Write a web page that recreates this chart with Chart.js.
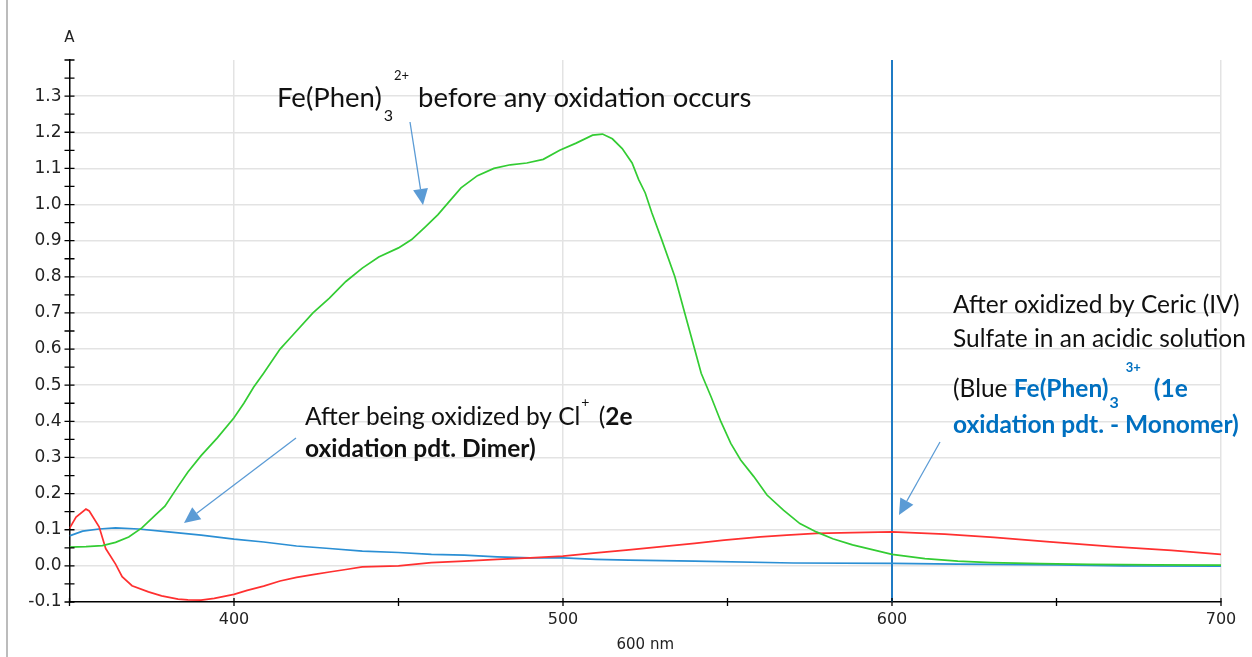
<!DOCTYPE html>
<html>
<head>
<meta charset="utf-8">
<script src="https://cdn.jsdelivr.net/npm/chart.js@4.4.1/dist/chart.umd.min.js"></script>
<style>
  html, body { margin: 0; padding: 0; background: #fff; }
  #wrap { position: relative; width: 1252px; height: 657px; overflow: hidden; }
  #spectrum { position: absolute; left: 0; top: 0; }
  #frame { position: absolute; left: 6px; top: 0; width: 2px; height: 657px; background: #bcbcbc; }
</style>
</head>
<body>
<div id="wrap">
  <canvas id="spectrum" width="1252" height="657"></canvas>
  <div id="frame"></div>
</div>
<script>
// absorbance spectra (wavelength in nm, absorbance A)
const greenNm = [350, 355, 360, 364, 368, 372, 376, 379, 383, 386, 390, 395, 400, 403, 406, 409, 414, 417, 424, 429,
  434, 439, 444, 450, 454, 458, 462, 465, 469, 474, 479, 484, 489, 494, 499, 504, 509, 512, 515, 518,
  521, 523, 525, 527, 530, 534, 537, 540, 542, 545, 548, 551, 554, 558, 562, 567, 572, 577, 582, 588,
  594, 600, 610, 620, 630, 645, 660, 680, 700];
const greenAbs = [0.052, 0.053, 0.056, 0.065, 0.08, 0.105, 0.14, 0.165, 0.22, 0.26, 0.305, 0.355, 0.41, 0.45, 0.495, 0.533, 0.6, 0.63, 0.70, 0.741,
  0.787, 0.824, 0.855, 0.88, 0.903, 0.937, 0.972, 1.004, 1.046, 1.08, 1.10, 1.11, 1.115, 1.125, 1.15, 1.17, 1.192, 1.195, 1.182, 1.155,
  1.115, 1.069, 1.032, 0.977, 0.903, 0.80, 0.70, 0.60, 0.533, 0.468, 0.399, 0.339, 0.293, 0.247, 0.196, 0.154, 0.117, 0.094, 0.075, 0.058,
  0.045, 0.032, 0.02, 0.013, 0.009, 0.006, 0.004, 0.003, 0.002];

const redNm = [350, 352, 355, 356, 359, 361, 364, 366, 369, 374, 378, 383, 386, 390, 394, 400, 404, 409, 414, 419,
  424, 429, 434, 439, 450, 460, 470, 480, 490, 500, 510, 520, 530, 540, 549, 560, 568, 577, 588, 600,
  616, 631, 647, 667, 685, 700];
const redAbs = [0.104, 0.135, 0.157, 0.152, 0.108, 0.048, 0.005, -0.03, -0.055, -0.072, -0.083, -0.092, -0.094, -0.095, -0.09, -0.079, -0.068, -0.056, -0.042, -0.032,
  -0.024, -0.017, -0.01, -0.003, 0.0, 0.009, 0.013, 0.018, 0.022, 0.027, 0.036, 0.044, 0.053, 0.062, 0.071, 0.08, 0.085, 0.09, 0.092, 0.094,
  0.088, 0.079, 0.067, 0.053, 0.043, 0.032];

const blueNm = [350, 354, 359, 364, 371, 380, 390, 400, 409, 419, 429, 439, 450, 460, 470, 480, 490, 500, 510, 520,
  540, 570, 600, 620, 650, 670, 700];
const blueAbs = [0.083, 0.096, 0.102, 0.105, 0.102, 0.094, 0.085, 0.074, 0.066, 0.055, 0.048, 0.041, 0.037, 0.032, 0.03, 0.025, 0.022, 0.022, 0.018, 0.016,
  0.013, 0.008, 0.007, 0.005, 0.003, 0.0, -0.001];

const markerNm = 600;
const nmMin = 350, nmMax = 700;
const absMin = -0.1, absMax = 1.4;
const xLabels = [400, 500, 600, 700];
const yLabels = [-0.1, 0.0, 0.1, 0.2, 0.3, 0.4, 0.5, 0.6, 0.7, 0.8, 0.9, 1.0, 1.1, 1.2, 1.3];

const toPoints = (xs, ys) => xs.map((x, i) => ({ x, y: ys[i] }));
const isLabel = (list, v) => list.some((l) => Math.abs(l - v) < 1e-6);

const TEXT_FONT = "Lato, 'Open Sans', sans-serif";
const AXIS_FONT = "'DejaVu Sans', Verdana, sans-serif";
const NOTE_BLUE = "#0070c0";

// callout text, laid out run by run along a baseline
const notes = [
  { x: 277, y: 107, size: 27.5, runs: [
    { t: "Fe(Phen)" },
    { t: "3", size: 16, dy: 14, pad: 2 },
    { t: "2+", size: 13, dy: -27, pad: 1 },
    { t: " before any oxidation occurs", pad: 2 },
  ] },
  { x: 305, y: 425, size: 24.5, runs: [
    { t: "After being oxidized by Cl" },
    { t: "+", size: 14, dy: -18, pad: 1 },
    { t: " (", pad: 3 },
    { t: "2e", bold: true },
  ] },
  { x: 305, y: 457, size: 24.5, runs: [{ t: "oxidation pdt. Dimer)", bold: true }] },
  { x: 953, y: 313, size: 24.5, runs: [{ t: "After oxidized by Ceric (IV)" }] },
  { x: 953, y: 347, size: 24.5, runs: [{ t: "Sulfate in an acidic solution" }] },
  { x: 953, y: 397, size: 24.5, runs: [
    { t: "(Blue " },
    { t: "Fe(Phen)", bold: true, color: NOTE_BLUE },
    { t: "3", size: 16, dy: 11, bold: true, color: NOTE_BLUE, pad: 1 },
    { t: "3+", size: 13, dy: -25, bold: true, color: NOTE_BLUE, pad: 7 },
    { t: " (1e", bold: true, color: NOTE_BLUE, pad: 7 },
  ] },
  { x: 953, y: 433, size: 24.5, runs: [{ t: "oxidation pdt. - Monomer)", bold: true, color: NOTE_BLUE }] },
];

const arrows = [
  { from: [410, 122], to: [423, 205] },
  { from: [296, 438], to: [184, 523] },
  { from: [940, 442], to: [899, 515] },
];

const decorations = {
  id: "decorations",
  afterDraw(chart) {
    const { ctx, chartArea, scales } = chart;
    ctx.save();

    // tick marks crossing both axes
    ctx.strokeStyle = "#000";
    ctx.lineWidth = 1.3;
    ctx.beginPath();
    scales.x.ticks.forEach((t) => {
      const px = scales.x.getPixelForValue(t.value);
      ctx.moveTo(px, chartArea.bottom - 4);
      ctx.lineTo(px, chartArea.bottom + 4);
    });
    scales.y.ticks.forEach((t) => {
      const py = scales.y.getPixelForValue(t.value);
      ctx.moveTo(chartArea.left - 5, py);
      ctx.lineTo(chartArea.left + 5, py);
    });
    ctx.stroke();

    // axis unit above the y axis
    ctx.fillStyle = "#222";
    ctx.font = `15px ${AXIS_FONT}`;
    ctx.textAlign = "center";
    ctx.textBaseline = "alphabetic";
    ctx.fillText("A", chartArea.left, 42);

    // callout arrows
    ctx.strokeStyle = "#5b9bd5";
    ctx.fillStyle = "#5b9bd5";
    ctx.lineWidth = 1.3;
    arrows.forEach(({ from, to }) => {
      const dx = to[0] - from[0], dy = to[1] - from[1];
      const len = Math.hypot(dx, dy);
      const ux = dx / len, uy = dy / len;
      const headLen = 16, headHalf = 7.5;
      const bx = to[0] - ux * headLen, by = to[1] - uy * headLen;
      ctx.beginPath();
      ctx.moveTo(from[0], from[1]);
      ctx.lineTo(bx, by);
      ctx.stroke();
      ctx.beginPath();
      ctx.moveTo(to[0], to[1]);
      ctx.lineTo(bx - uy * headHalf, by + ux * headHalf);
      ctx.lineTo(bx + uy * headHalf, by - ux * headHalf);
      ctx.closePath();
      ctx.fill();
    });

    // callout text
    ctx.textAlign = "left";
    notes.forEach((note) => {
      let x = note.x;
      note.runs.forEach((run) => {
        const size = run.size || note.size;
        ctx.font = `${run.bold ? "bold " : ""}${size}px ${TEXT_FONT}`;
        ctx.fillStyle = run.color || "#111";
        x += run.pad || 0;
        ctx.fillText(run.t, x, note.y + (run.dy || 0));
        x += ctx.measureText(run.t).width;
      });
    });

    ctx.restore();
  },
};

new Chart(document.getElementById("spectrum"), {
  type: "line",
  data: {
    datasets: [
      { label: "Fe(Phen)3 2+", data: toPoints(greenNm, greenAbs), borderColor: "#33cc33" },
      { label: "Cl+ dimer", data: toPoints(redNm, redAbs), borderColor: "#ff3030" },
      { label: "Fe(Phen)3 3+", data: toPoints(blueNm, blueAbs), borderColor: "#2b8fd4" },
      {
        label: "600 nm",
        data: [{ x: markerNm, y: absMin }, { x: markerNm, y: absMax }],
        borderColor: "#1f7bc4",
        borderWidth: 2,
      },
    ],
  },
  options: {
    responsive: false,
    animation: false,
    devicePixelRatio: 1,
    layout: { padding: { left: 8, top: 60, right: 31, bottom: 0 } },
    elements: {
      point: { radius: 0, hoverRadius: 0 },
      line: { borderWidth: 1.7, tension: 0, fill: false },
    },
    plugins: { legend: { display: false }, tooltip: { enabled: false } },
    scales: {
      x: {
        type: "linear",
        min: nmMin,
        max: nmMax,
        afterFit: (scale) => { scale.height = 55; },
        ticks: {
          stepSize: 50,
          autoSkip: false,
          maxRotation: 0,
          padding: 8,
          color: "#222",
          font: { family: AXIS_FONT, size: 16 },
          callback: (v) => (isLabel(xLabels, v) ? String(v) : ""),
        },
        grid: {
          drawTicks: false,
          lineWidth: 1.5,
          color: (c) => (c.tick && isLabel(xLabels, c.tick.value) ? "#e3e3e3" : "rgba(0,0,0,0)"),
        },
        border: { color: "#000", width: 1.5 },
        title: {
          display: true,
          text: "600 nm",
          color: "#222",
          font: { family: AXIS_FONT, size: 15 },
          padding: { top: 0, bottom: 3 },
        },
      },
      y: {
        min: absMin,
        max: absMax,
        afterFit: (scale) => { scale.width = 61.5; },
        ticks: {
          stepSize: 0.05,
          autoSkip: false,
          padding: 8,
          color: "#222",
          font: { family: AXIS_FONT, size: 17 },
          callback: (v) => (isLabel(yLabels, v) ? Number(v).toFixed(1) : ""),
        },
        grid: {
          drawTicks: false,
          lineWidth: 1.5,
          color: (c) => (c.tick && isLabel(yLabels, c.tick.value) && c.tick.value > absMin + 0.05 ? "#e3e3e3" : "rgba(0,0,0,0)"),
        },
        border: { color: "#000", width: 1.5 },
      },
    },
  },
  plugins: [decorations],
});
</script>
</body>
</html>
